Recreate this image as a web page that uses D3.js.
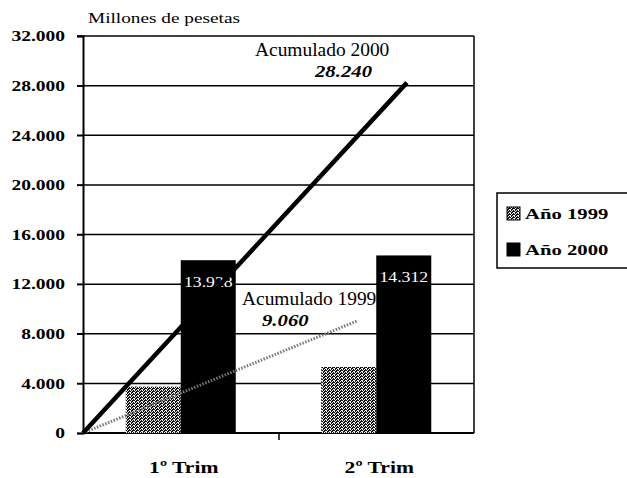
<!DOCTYPE html>
<html>
<head>
<meta charset="utf-8">
<script src="https://cdn.jsdelivr.net/npm/d3@7"></script>
<style>
body{margin:0;background:#fff;}
</style>
</head>
<body>
<svg width="627" height="478"></svg>
<script>
var trimestres = ['1º Trim', '2º Trim'];
var series = ['Año 1999', 'Año 2000'];
var valores1999 = [3740, 5320];
var valores2000 = [13928, 14312];
var etiquetas2000 = ['13.928', '14.312'];
var yTicks = [0, 4000, 8000, 12000, 16000, 20000, 24000, 28000, 32000];
// acumulados: posicion en eje x (0 = origen, 1 = fin 1er trim, 2 = fin 2o trim)
var acum1999Pos = [0, 1.407];
var acum1999Val = [0, 9060];
var acum2000Pos = [0, 1.657];
var acum2000Val = [0, 28240];

var FONT = 'Liberation Serif';
var svg = d3.select('svg').attr('font-family', FONT);
var L = 83, R = 474, T = 36, B = 433;

var loc = d3.formatLocale({decimal: ',', thousands: '.', grouping: [3], currency: ['', '']});
var fmt = loc.format(',');

// texto ensanchado horizontalmente (como el original escaneado)
function txt(g, x, y, sx, s) {
  return g.append('text').attr('transform', 'translate(' + x + ',' + y + ') scale(' + sx + ',1)')
    .attr('font-family', FONT).text(s);
}

var x = d3.scaleBand().domain(trimestres).range([L, R]).padding(0);
var x1 = d3.scaleBand().domain(series).range([0, x.bandwidth()]).paddingInner(0).paddingOuter(0.777);
var xl = d3.scaleLinear().domain([0, 2]).range([L, R]);
var y = d3.scaleLinear().domain([0, 32000]).range([B, T]);

var defs = svg.append('defs');
var pat = defs.append('pattern').attr('id', 'dither').attr('patternUnits', 'userSpaceOnUse')
  .attr('width', 4).attr('height', 3);
pat.append('rect').attr('width', 4).attr('height', 3).attr('fill', '#111');
[[0, 0], [2, 0], [3, 1], [1, 2], [2, 2]].forEach(function (p) {
  pat.append('rect').attr('x', p[0]).attr('y', p[1]).attr('width', 1).attr('height', 1).attr('fill', '#eee');
});

// gridlines
svg.append('g').selectAll('line').data(yTicks.filter(function (d) { return d > 0; })).enter().append('line')
  .attr('x1', L - 6).attr('x2', R).attr('y1', function (d) { return y(d); }).attr('y2', function (d) { return y(d); })
  .attr('stroke', '#000').attr('stroke-width', 1.5);

// right border
svg.append('line').attr('x1', R).attr('x2', R).attr('y1', T).attr('y2', B)
  .attr('stroke', '#000').attr('stroke-width', 1.5);

// y axis
var ysx = 1.3;
var yAxis = svg.append('g').attr('transform', 'translate(' + L + ',0)')
  .call(d3.axisLeft(y).tickValues(yTicks).tickFormat(fmt).tickSize(6).tickPadding(12));
yAxis.attr('font-family', FONT);
yAxis.select('.domain').attr('stroke-width', 2);
yAxis.selectAll('.tick line').attr('stroke-width', 1.5);
yAxis.selectAll('text').attr('font-family', FONT).attr('font-size', 15)
  .attr('font-weight', 'bold').attr('fill', '#000')
  .attr('x', -18 / ysx).attr('transform', 'scale(' + ysx + ',1)');

// x axis
var xAxis = svg.append('g').attr('transform', 'translate(0,' + B + ')')
  .call(d3.axisBottom(xl).tickValues([1]).tickSize(7).tickFormat(''));
xAxis.select('.domain').attr('stroke-width', 2).attr('d', 'M' + L + ',0H' + R);
xAxis.selectAll('.tick line').attr('stroke-width', 1.5);

trimestres.forEach(function (t) {
  txt(svg, x(t) + x.bandwidth() / 2 + 3, 473, 1.27, t)
    .attr('text-anchor', 'middle').attr('font-size', 17).attr('font-weight', 'bold');
});

// bars
var gBars = svg.append('g');
trimestres.forEach(function (t, i) {
  gBars.append('rect').attr('x', x(t) + x1(series[0])).attr('width', x1.bandwidth())
    .attr('y', y(valores1999[i])).attr('height', B - y(valores1999[i])).attr('fill', 'url(#dither)');
  gBars.append('rect').attr('x', x(t) + x1(series[1])).attr('width', x1.bandwidth())
    .attr('y', y(valores2000[i])).attr('height', B - y(valores2000[i])).attr('fill', '#000');
  txt(gBars, x(t) + x1(series[1]) + x1.bandwidth() / 2, y(valores2000[i]) + 27, 1.18, etiquetas2000[i])
    .attr('text-anchor', 'middle').attr('fill', '#fff').attr('font-size', 15);
});

// accumulated lines
var line = d3.line().x(function (d) { return xl(d[0]); }).y(function (d) { return y(d[1]); });
svg.append('path').datum(d3.zip(acum1999Pos, acum1999Val)).attr('d', line)
  .attr('fill', 'none').attr('stroke', '#777').attr('stroke-width', 3).attr('stroke-dasharray', '1.5,1.5');
svg.append('path').datum(d3.zip(acum2000Pos, acum2000Val)).attr('d', line)
  .attr('fill', 'none').attr('stroke', '#000').attr('stroke-width', 4.5);

// annotations
txt(svg, 255, 56, 1.08, 'Acumulado 2000').attr('font-size', 18);
txt(svg, 315, 77, 1.22, fmt(acum2000Val[1])).attr('font-size', 17).attr('font-weight', 'bold').attr('font-style', 'italic');
txt(svg, 242, 305, 1.08, 'Acumulado 1999').attr('font-size', 18);
txt(svg, 262, 326, 1.22, fmt(acum1999Val[1])).attr('font-size', 17).attr('font-weight', 'bold').attr('font-style', 'italic');

txt(svg, 88, 23, 1.33, 'Millones de pesetas').attr('font-size', 14.5);

// legend
var lg = svg.append('g');
lg.append('rect').attr('x', 497).attr('y', 193).attr('width', 140).attr('height', 75)
  .attr('fill', '#fff').attr('stroke', '#000').attr('stroke-width', 1.5);
series.forEach(function (s, i) {
  var yy = 213 + i * 36;
  lg.append('rect').attr('x', 507).attr('y', yy - 6).attr('width', 13).attr('height', 13)
    .attr('fill', i === 0 ? 'url(#dither)' : '#000').attr('stroke', '#000').attr('stroke-width', 1);
  txt(lg, 525, yy + 6, 1.38, s).attr('font-size', 15).attr('font-weight', 'bold');
});
</script>
</body>
</html>
